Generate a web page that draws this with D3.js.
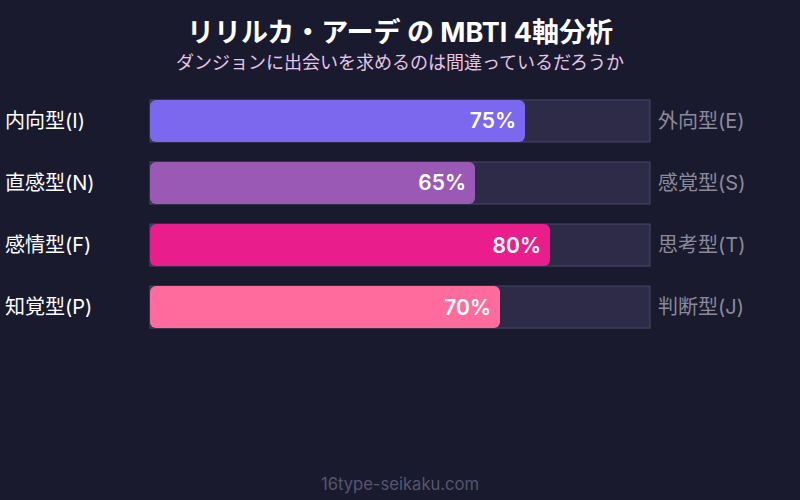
<!DOCTYPE html>
<html><head><meta charset="utf-8">
<script src="https://cdn.jsdelivr.net/npm/d3@7"></script>
<style>body{margin:0;background:#1a1a2e;}svg{display:block;}</style>
</head><body>
<script>
const leftLabels = ["内向型(I)", "直感型(N)", "感情型(F)", "知覚型(P)"];
const rightLabels = ["外向型(E)", "感覚型(S)", "思考型(T)", "判断型(J)"];
const values = [75, 65, 80, 70];
const colors = ["#7b68ee", "#9b59b6", "#e91e8c", "#ff6b9d"];
const title = "リリルカ・アーデ の MBTI 4軸分析";
const subtitle = "ダンジョンに出会いを求めるのは間違っているだろうか";
const footer = "16type-seikaku.com";

const W = 800, H = 500;
const font = "Inter, 'Noto Sans CJK JP', sans-serif";
const svg = d3.select("body").append("svg").attr("width", W).attr("height", H);
svg.append("rect").attr("width", W).attr("height", H).attr("fill", "#1a1a2e");

const x = d3.scaleLinear().domain([0, 100]).range([150, 650]);
const y = d3.scaleBand().domain(d3.range(values.length)).range([90, 338]).paddingInner(0.323).paddingOuter(0.16);

svg.append("text").attr("x", W/2).attr("y", 42).attr("text-anchor", "middle")
  .attr("fill", "#ffffff").attr("font-family", font).attr("font-weight", "bold").attr("font-size", 27).text(title);
svg.append("text").attr("x", W/2).attr("y", 69).attr("text-anchor", "middle")
  .attr("fill", "#e6c6e6").attr("font-family", font).attr("font-size", 18).text(subtitle);

const g = svg.append("g");
const rows = g.selectAll("g.row").data(values).join("g").attr("class", "row");

rows.append("rect").attr("x", x(0)).attr("y", (d,i) => y(i)).attr("width", x(100) - x(0)).attr("height", y.bandwidth())
  .attr("fill", "#2d2b48").attr("stroke", "#4a4868").attr("stroke-width", 1);
rows.append("rect").attr("x", x(0)).attr("y", (d,i) => y(i)).attr("width", d => x(d) - x(0)).attr("height", y.bandwidth())
  .attr("rx", 6).attr("fill", (d,i) => colors[i]);
rows.append("text").attr("x", d => x(d) - 9).attr("y", (d,i) => y(i) + y.bandwidth()/2 + 7.5)
  .attr("text-anchor", "end").attr("fill", "#ffffff").attr("font-family", font).attr("font-weight", 600).attr("font-size", 21)
  .text(d => d + "%");
rows.append("text").attr("x", 5).attr("y", (d,i) => y(i) + y.bandwidth()/2 + 7)
  .attr("fill", "#ffffff").attr("font-family", font).attr("font-size", 20).text((d,i) => leftLabels[i]);
rows.append("text").attr("x", 658).attr("y", (d,i) => y(i) + y.bandwidth()/2 + 7)
  .attr("fill", "#8a8a9c").attr("font-family", font).attr("font-size", 20).text((d,i) => rightLabels[i]);

svg.append("text").attr("x", W/2).attr("y", 490).attr("text-anchor", "middle")
  .attr("fill", "#55556e").attr("font-family", font).attr("font-size", 16.6).text(footer);
</script>
</body></html>
